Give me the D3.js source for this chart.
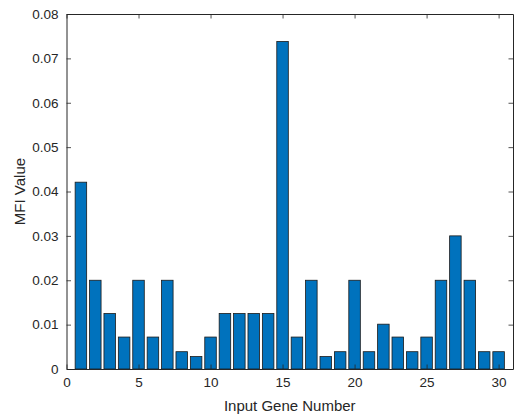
<!DOCTYPE html>
<html><head><meta charset="utf-8">
<script src="https://cdn.jsdelivr.net/npm/d3@7"></script>
<style>body{margin:0;background:#fff}svg{display:block}text{font-family:"Liberation Sans",Arial,sans-serif}</style>
</head><body>
<script>
const genes = d3.range(1, 31);
const mfi = [0.0421,0.0200,0.0125,0.0072,0.0200,0.0072,0.0200,0.0039,0.0028,0.0072,
             0.0125,0.0125,0.0125,0.0125,0.0738,0.0072,0.0200,0.0028,0.0039,0.0200,
             0.0039,0.0101,0.0072,0.0039,0.0072,0.0200,0.0300,0.0200,0.0039,0.0039];
const xTicks = [0,5,10,15,20,25,30];
const yTicks = [0,0.01,0.02,0.03,0.04,0.05,0.06,0.07,0.08];

const W = 517, H = 417;
const m = {l:66.5, r:4, t:14, b:48};
const svg = d3.select("body").append("svg").attr("width", W).attr("height", H);
const x = d3.scaleLinear().domain([0,31]).range([m.l, W - m.r]);
const y = d3.scaleLinear().domain([0,0.08]).range([H - m.b, m.t]);
const axc = "#262626";

svg.append("g").selectAll("rect").data(mfi).join("rect")
  .attr("x", (d,i) => x(genes[i] - 0.4))
  .attr("width", x(0.8) - x(0))
  .attr("y", d => y(d))
  .attr("height", d => y(0) - y(d))
  .attr("fill", "#0072BD").attr("stroke", "#1a1a1a").attr("stroke-width", 0.8);

const tl = 4.5;
const gx = svg.append("g").attr("transform", `translate(0,${y(0)})`)
  .call(d3.axisBottom(x).tickValues(xTicks).tickSizeInner(-tl).tickSizeOuter(0).tickPadding(8));
const gxt = svg.append("g").attr("transform", `translate(0,${y(0.08)})`)
  .call(d3.axisTop(x).tickValues(xTicks).tickSizeInner(-tl).tickSizeOuter(0).tickFormat(""));
const gy = svg.append("g").attr("transform", `translate(${x(0)},0)`)
  .call(d3.axisLeft(y).tickValues(yTicks).tickSizeInner(-tl).tickSizeOuter(0).tickPadding(8).tickFormat(d => d === 0 ? "0" : d3.format(".2f")(d)));
const gyr = svg.append("g").attr("transform", `translate(${x(31)},0)`)
  .call(d3.axisRight(y).tickValues(yTicks).tickSizeInner(-tl).tickSizeOuter(0).tickFormat(""));
[gx,gxt,gy,gyr].forEach(g => {
  g.select(".domain").attr("stroke", axc).attr("stroke-width", 1);
  g.selectAll(".tick line").attr("stroke", axc).attr("stroke-width", 0.8);
  g.selectAll("text").attr("fill", axc).style("font-size", "13.5px");
});

svg.append("text").attr("x", (x(0)+x(31))/2).attr("y", 411)
  .attr("text-anchor", "middle").attr("fill", axc).style("font-size", "15px")
  .text("Input Gene Number");
svg.append("text").attr("transform", `translate(25,${(y(0)+y(0.08))/2}) rotate(-90)`)
  .attr("text-anchor", "middle").attr("fill", axc).style("font-size", "15px")
  .text("MFI Value");
</script>
</body></html>
